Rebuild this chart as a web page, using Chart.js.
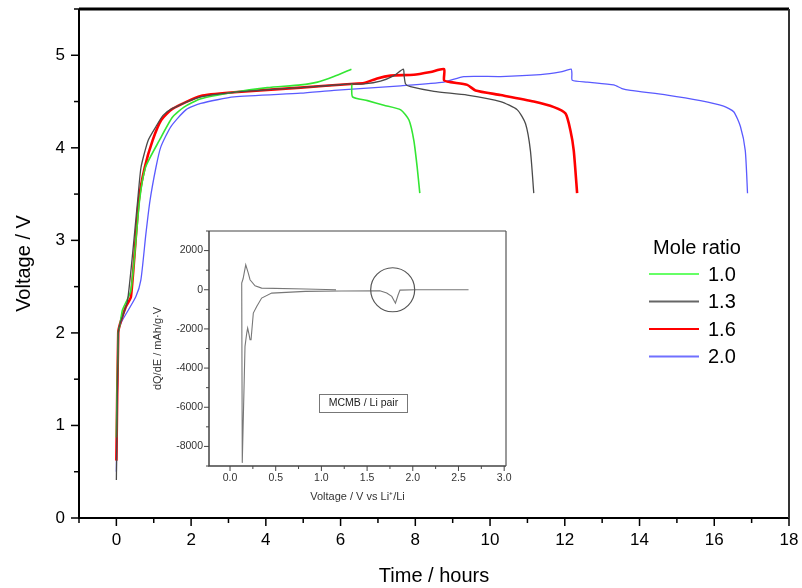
<!DOCTYPE html>
<html>
<head>
<meta charset="utf-8">
<script src="https://cdn.jsdelivr.net/npm/chart.js@4.4.1/dist/chart.umd.min.js"></script>
<style>
  html, body { margin: 0; padding: 0; background: #fff; }
  #wrap { position: relative; width: 802px; height: 588px; }
  #main { position: absolute; left: 0; top: 0; }
  #inset { position: absolute; left: 130px; top: 228px; }
</style>
</head>
<body>
<div id="wrap">
  <canvas id="main" width="802" height="588"></canvas>
  <canvas id="inset" width="392" height="280"></canvas>
</div>
<script>
// charge / discharge curves, time in hours, voltage in V (null = break in line)
const ratioLabels = ['1.0', '1.3', '1.6', '2.0'];

const time10 = [0, 0.05, 0.1, 0.165, 0.39, 0.62, 0.78, 1.15, 1.5, 1.81, 2.26, 3.15, 4.04, 4.93, 5.38, 5.82, 6.29, 6.3, 6.3, 6.32, 6.72, 7.16, 7.61, 7.83, 7.96, 8.05, 8.12];
const volt10 = [0.87, 2.0, 2.1, 2.25, 2.46, 3.43, 3.79, 4.08, 4.33, 4.44, 4.53, 4.60, 4.65, 4.68, 4.71, 4.77, 4.85, null, 4.69, 4.55, 4.51, 4.46, 4.41, 4.30, 4.08, 3.79, 3.51];

const time13 = [0, 0.05, 0.1, 0.3, 0.57, 0.66, 0.85, 1.06, 1.25, 1.48, 2.26, 3.15, 4.93, 6.27, 6.63, 7.07, 7.43, 7.68, 7.70, 7.74, 7.87, 8.5, 9.39, 10.28, 10.73, 10.95, 11.08, 11.17];
const volt13 = [0.41, 2.0, 2.1, 2.35, 3.43, 3.79, 4.08, 4.23, 4.35, 4.42, 4.55, 4.60, 4.65, 4.69, 4.69, 4.72, 4.78, 4.85, 4.78, 4.69, 4.66, 4.61, 4.57, 4.50, 4.41, 4.26, 3.97, 3.51];

const time16 = [0, 0.05, 0.1, 0.25, 0.39, 0.6, 0.76, 0.97, 1.2, 1.5, 2.26, 3.15, 4.93, 6.27, 6.63, 6.98, 7.34, 7.96, 8.41, 8.77, 8.77, 8.94, 9.39, 9.61, 10.28, 11.17, 11.71, 12.02, 12.15, 12.24, 12.33];
const volt16 = [0.62, 2.0, 2.1, 2.28, 2.39, 3.43, 3.79, 4.08, 4.3, 4.42, 4.56, 4.60, 4.65, 4.69, 4.70, 4.75, 4.78, 4.79, 4.82, 4.85, 4.73, 4.71, 4.68, 4.62, 4.57, 4.50, 4.44, 4.37, 4.19, 3.97, 3.51];

const time20 = [0, 0.05, 0.1, 0.165, 0.52, 0.655, 0.79, 0.9, 1.06, 1.19, 1.46, 1.86, 2.26, 3.15, 4.93, 5.82, 7.61, 8.77, 9.30, 10.28, 11.35, 11.89, 12.17, 12.19, 12.2, 12.6, 13.31, 13.53, 13.76, 14.74, 15.63, 16.25, 16.52, 16.7, 16.83, 16.89];
const volt20 = [0.5, 2.0, 2.08, 2.14, 2.39, 2.57, 3.07, 3.43, 3.79, 4.01, 4.23, 4.41, 4.48, 4.55, 4.59, 4.62, 4.67, 4.71, 4.77, 4.77, 4.79, 4.82, 4.85, 4.80, 4.73, 4.71, 4.68, 4.64, 4.62, 4.57, 4.51, 4.45, 4.39, 4.23, 3.97, 3.51];

const timeTicks = [0, 2, 4, 6, 8, 10, 12, 14, 16, 18];
const voltTicks = [0, 1, 2, 3, 4, 5];

// inset: dQ/dE vs voltage for MCMB / Li
const insetVolt = [1.16, 0.825, 0.346, 0.274, 0.219, 0.2, 0.172, 0.143, 0.128, 0.134, 0.164, 0.183, 0.193, 0.209, 0.219, 0.23, 0.255, 0.292, 0.346, 0.456, 0.825, 1.22, 1.64, 1.715, 1.77, 1.80, 1.81, 1.84, 1.86, 2.03, 2.61];
const insetDqde = [0, 35, 85, 200, 510, 850, 1275, 560, 340, -8840, -2890, -2210, -1955, -2300, -2550, -2550, -1190, -850, -425, -170, -85, -60, -50, -170, -340, -600, -680, -255, -20, 0, 0];
const insetXTicks = [0, 0.5, 1, 1.5, 2, 2.5, 3];
const insetYTicks = [-8000, -6000, -4000, -2000, 0, 2000];
const circleAt = [1.78, 0];
const noteAt = [1.46, -5765];

const FONT = "Arial, 'Liberation Sans', sans-serif";
const pts = (t, v) => t.map((x, i) => ({x: x, y: v[i]}));
const noOverhang = s => { s.paddingLeft = 0; s.paddingRight = 0; s.paddingTop = 0; s.paddingBottom = 0; };

// frame + outward tick marks (major / minor)
const frameTicks = {
  id: 'frameTicks',
  afterDatasetsDraw(chart, args, o) {
    const ctx = chart.ctx;
    const {left, right, top, bottom} = chart.chartArea;
    const xs = chart.scales.x, ys = chart.scales.y;
    ctx.save();
    ctx.strokeStyle = o.color;
    ctx.lineWidth = o.tickWidth;
    for (let i = 0; ; i++) {
      const v = o.x.from + i * o.x.minor;
      if (v > xs.max + 1e-9) break;
      const p = xs.getPixelForValue(v);
      const r = v / o.x.major;
      const len = Math.abs(r - Math.round(r)) < 1e-6 ? o.len : o.minorLen;
      ctx.beginPath(); ctx.moveTo(p, bottom); ctx.lineTo(p, bottom + len); ctx.stroke();
    }
    for (let i = 0; ; i++) {
      const v = o.y.from + i * o.y.minor;
      if (v > ys.max + 1e-9) break;
      const p = ys.getPixelForValue(v);
      const r = v / o.y.major;
      const len = Math.abs(r - Math.round(r)) < 1e-6 ? o.len : o.minorLen;
      ctx.beginPath(); ctx.moveTo(left, p); ctx.lineTo(left - len, p); ctx.stroke();
    }
    // box
    ctx.strokeStyle = o.color;
    ctx.lineWidth = o.axisWidth;
    ctx.beginPath(); ctx.moveTo(left, top); ctx.lineTo(left, bottom); ctx.lineTo(right, bottom); ctx.stroke();
    ctx.lineWidth = o.topWidth;
    ctx.beginPath(); ctx.moveTo(left, top); ctx.lineTo(right, top); ctx.stroke();
    ctx.strokeStyle = o.rightColor;
    ctx.lineWidth = o.rightWidth;
    ctx.beginPath(); ctx.moveTo(right, top); ctx.lineTo(right, bottom); ctx.stroke();
    ctx.restore();
  }
};

// legend with title drawn at a fixed spot on the right
const moleLegend = {
  id: 'moleLegend',
  afterDraw(chart) {
    const ctx = chart.ctx;
    ctx.save();
    ctx.fillStyle = '#000';
    ctx.font = '20px ' + FONT;
    ctx.textAlign = 'center';
    ctx.textBaseline = 'middle';
    ctx.fillText('Mole ratio', 697, 248);
    ctx.textAlign = 'left';
    chart.data.datasets.forEach((ds, i) => {
      const y = 274 + i * 27.5;
      ctx.strokeStyle = ds.legendColor;
      ctx.lineWidth = 2;
      ctx.beginPath(); ctx.moveTo(649, y); ctx.lineTo(699, y); ctx.stroke();
      ctx.fillText(ds.label, 708, y + 1);
    });
    ctx.restore();
  }
};

const series = [
  {t: time10, v: volt10, color: '#33e633', legend: '#66ff66', width: 1.6, order: 1},
  {t: time13, v: volt13, color: '#4a4a4a', legend: '#666666', width: 1.3, order: 0},
  {t: time16, v: volt16, color: '#ff0000', legend: '#ff0000', width: 2.6, order: 2},
  {t: time20, v: volt20, color: '#5a5aff', legend: '#7070ff', width: 1.3, order: 3}
];

new Chart(document.getElementById('main'), {
  type: 'scatter',
  data: {
    datasets: series.map((s, i) => ({
      label: ratioLabels[i],
      data: pts(s.t, s.v),
      showLine: true,
      borderColor: s.color,
      legendColor: s.legend,
      borderWidth: s.width,
      pointRadius: 0,
      tension: 0.2,
      spanGaps: false,
      order: s.order
    }))
  },
  options: {
    responsive: false,
    animation: false,
    devicePixelRatio: 1,
    layout: {padding: {top: 9, right: 13, left: 0, bottom: 0}},
    plugins: {
      legend: {display: false},
      tooltip: {enabled: false},
      frameTicks: {
        color: '#000', tickWidth: 1.5, len: 8, minorLen: 5,
        axisWidth: 2, topWidth: 3, rightWidth: 2, rightColor: '#333',
        x: {from: -1, minor: 1, major: 2},
        y: {from: 0, minor: 0.5, major: 1}
      }
    },
    scales: {
      x: {
        type: 'linear', min: -1, max: 18,
        grid: {display: false, drawTicks: false},
        border: {display: false},
        afterBuildTicks: s => { s.ticks = timeTicks.map(v => ({value: v})); },
        afterFit: s => { s.height = 70; noOverhang(s); },
        ticks: {autoSkip: false, maxRotation: 0, padding: 12, color: '#000', font: {size: 17, family: FONT},
                callback: v => String(v)},
        title: {display: true, text: 'Time / hours', color: '#000', font: {size: 20, family: FONT}, padding: {top: 0, bottom: 0}}
      },
      y: {
        type: 'linear', min: 0, max: 5.5,
        grid: {display: false, drawTicks: false},
        border: {display: false},
        afterBuildTicks: s => { s.ticks = voltTicks.map(v => ({value: v})); },
        afterFit: s => { s.width = 79; noOverhang(s); },
        ticks: {autoSkip: false, padding: 14, color: '#000', font: {size: 17, family: FONT},
                callback: v => String(v)},
        title: {display: true, text: 'Voltage / V', color: '#000', font: {size: 20, family: FONT}, padding: {top: 12, bottom: 0}}
      }
    }
  },
  plugins: [frameTicks, moleLegend]
});

// inset annotations: circle round the small peak and the label box
const insetNotes = {
  id: 'insetNotes',
  afterDatasetsDraw(chart) {
    const {ctx, scales: {x, y}} = chart;
    ctx.save();
    ctx.strokeStyle = '#555';
    ctx.lineWidth = 1.2;
    ctx.beginPath();
    ctx.arc(x.getPixelForValue(circleAt[0]), y.getPixelForValue(circleAt[1]), 22, 0, Math.PI * 2);
    ctx.stroke();
    const cx = x.getPixelForValue(noteAt[0]), cy = y.getPixelForValue(noteAt[1]);
    ctx.strokeStyle = '#777';
    ctx.lineWidth = 1;
    ctx.strokeRect(Math.round(cx - 44) + 0.5, Math.round(cy - 9) + 0.5, 88, 18);
    ctx.fillStyle = '#222';
    ctx.font = '10.5px ' + FONT;
    ctx.textAlign = 'center';
    ctx.textBaseline = 'middle';
    ctx.fillText('MCMB / Li pair', cx, cy + 0.5);
    ctx.restore();
  }
};

new Chart(document.getElementById('inset'), {
  type: 'scatter',
  data: {
    datasets: [{
      label: 'dQ/dE',
      data: pts(insetVolt, insetDqde),
      showLine: true,
      borderColor: '#777',
      borderWidth: 1.1,
      pointRadius: 0,
      tension: 0
    }]
  },
  options: {
    responsive: false,
    animation: false,
    devicePixelRatio: 1,
    layout: {padding: {top: 3, right: 16, left: 0, bottom: 0}},
    plugins: {
      legend: {display: false},
      tooltip: {enabled: false},
      frameTicks: {
        color: '#444', tickWidth: 1, len: 5, minorLen: 3,
        axisWidth: 1.5, topWidth: 1, rightWidth: 1.2, rightColor: '#555',
        x: {from: 0, minor: 0.25, major: 0.5},
        y: {from: -9000, minor: 1000, major: 2000}
      }
    },
    scales: {
      x: {
        type: 'linear', min: -0.23, max: 3.02,
        grid: {display: false, drawTicks: false},
        border: {display: false},
        afterBuildTicks: s => { s.ticks = insetXTicks.map(v => ({value: v})); },
        afterFit: s => { s.height = 42; noOverhang(s); },
        ticks: {autoSkip: false, maxRotation: 0, padding: 6, color: '#333', font: {size: 10.5, family: FONT},
                callback: v => v.toFixed(1)},
        title: {display: true, text: 'Voltage / V vs Li\u207A/Li', color: '#333', font: {size: 11, family: FONT}, padding: {top: 0, bottom: 4}}
      },
      y: {
        type: 'linear', min: -9000, max: 3000,
        grid: {display: false, drawTicks: false},
        border: {display: false},
        afterBuildTicks: s => { s.ticks = insetYTicks.map(v => ({value: v})); },
        afterFit: s => { s.width = 79; noOverhang(s); },
        ticks: {autoSkip: false, padding: 6, color: '#333', font: {size: 10.5, family: FONT},
                callback: v => String(v)},
        title: {display: true, text: 'dQ/dE / mAh/g\u00B7V', color: '#333', font: {size: 11, family: FONT}, padding: {top: 21, bottom: 0}}
      }
    }
  },
  plugins: [frameTicks, insetNotes]
});
</script>
</body>
</html>
